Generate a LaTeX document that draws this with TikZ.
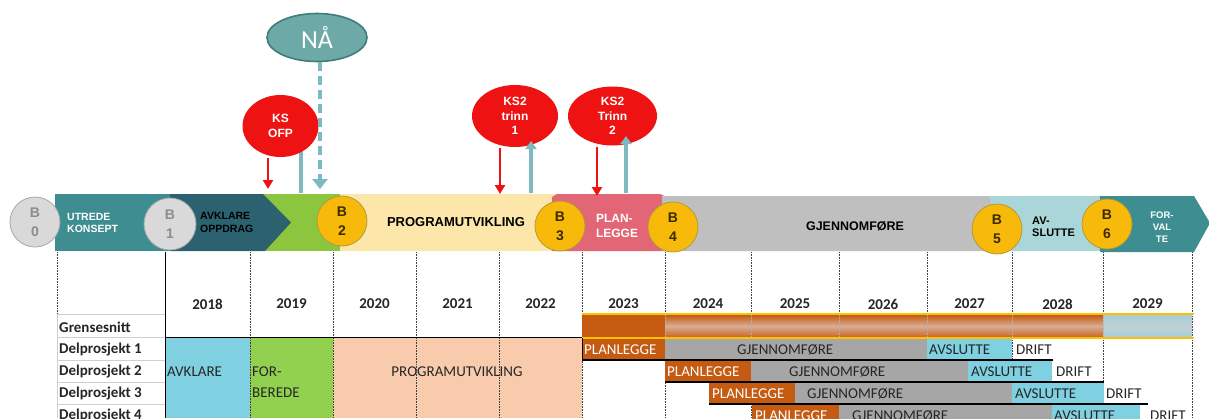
\documentclass[tikz,border=0pt]{standalone}
\usepackage{fontspec}
\setmainfont{Liberation Sans}
\newfontfamily\calibri{Carlito}
\usetikzlibrary{arrows.meta,shapes.geometric}

% phase band colours
\definecolor{tealA}{HTML}{3E8E91}
\definecolor{tealD}{HTML}{2C6170}
\definecolor{greenB}{HTML}{8CC63F}
\definecolor{sandB}{HTML}{FCE6AA}
\definecolor{pinkB}{HTML}{E36676}
\definecolor{grayB}{HTML}{BFBFBF}
\definecolor{tealL}{HTML}{ABD6D9}
% milestone circles
\definecolor{goldC}{HTML}{F7BA0A}
\definecolor{goldE}{HTML}{B29A3C}
\definecolor{brownT}{HTML}{3A2A00}
\definecolor{greyC}{HTML}{D9D9D9}
\definecolor{greyE}{HTML}{A8A8A8}
\definecolor{greyT}{HTML}{8C8C8C}
% decision points
\definecolor{ksred}{HTML}{EE1212}
\definecolor{naaF}{HTML}{6CA9A7}
\definecolor{naaE}{HTML}{3E7D7B}
\definecolor{arrTeal}{HTML}{7DB9BE}
% schedule table
\definecolor{orangeP}{HTML}{C55A11}
\definecolor{orangeL}{HTML}{D8AE94}
\definecolor{grayG}{HTML}{A6A6A6}
\definecolor{cyanA}{HTML}{7FD0E0}
\definecolor{greenF}{HTML}{92D050}
\definecolor{peach}{HTML}{F8CBAD}
\definecolor{yellowL}{HTML}{FFC000}
\definecolor{blueG}{HTML}{A3CEDA}
\definecolor{blueL}{HTML}{C2D0D4}
\definecolor{txt}{HTML}{262626}
\definecolor{gridL}{HTML}{D0D0D0}

\begin{document}
\begin{tikzpicture}[x=1pt,y=-1pt,
  bc/.style={circle, minimum size=50pt, inner sep=0pt, align=center,
    line width=0.8pt, font=\bfseries\fontsize{14}{19}\selectfont},
  bgold/.style={bc, fill=goldC, draw=goldE, text=brownT},
  bgrey/.style={bc, fill=greyC, draw=greyE, text=greyT},
  bandw/.style={inner sep=0pt, text=white, align=left,
    font=\bfseries\fontsize{10.5}{12}\selectfont},
  bandk/.style={bandw, text=black},
  bandbig/.style={inner sep=0pt, text=black, font=\bfseries\fontsize{13}{15}\selectfont},
  ks/.style={ellipse, fill=ksred, inner sep=0pt, text=white, align=center,
    font=\bfseries\fontsize{12}{14.5}\selectfont},
  redarr/.style={draw=ksred, line width=2.8pt, -{Triangle[width=10pt,length=9pt]}},
  tealarr/.style={draw=arrTeal, line width=3.6pt, -{Triangle[width=11pt,length=8pt]}},
  nowarr/.style={draw=arrTeal, line width=4.8pt, dash pattern=on 9pt off 5pt,
    -{Triangle[width=15pt,length=10pt]}},
  yr/.style={inner sep=0pt, text=txt, font=\calibri\bfseries\fontsize{15}{18}\selectfont},
  lab/.style={inner sep=0pt, anchor=west, text=txt, font=\calibri\bfseries\fontsize{15}{18}\selectfont},
  cell/.style={inner sep=0pt, anchor=west, text=txt, font=\calibri\fontsize{15}{21}\selectfont},
  cellw/.style={cell, text=white},
  ydot/.style={draw=black!75, line width=0.6pt, densely dotted},
  uline/.style={draw=black, line width=2pt},
]
\clip (0,0) rectangle (1209,418);
\fill[white] (0,0) rectangle (1209,418);

% ---------- phase band ----------
\fill[tealA] (55,194) rectangle (190,251);
\fill[greenB] (255,194) rectangle (345,251);
\fill[tealD] (170,194) -- (263,194) -- (291,222.5) -- (265,251) -- (170,251) -- cycle;
\fill[sandB] (340,194) rectangle (558,251);
\fill[pinkB] (552,197) -- (557,194) -- (660,194) -- (667,197) -- (667,251) -- (552,251) -- cycle;
\fill[grayB] (662,196) -- (990,196) -- (1003,251) -- (662,251) -- cycle;
\fill[tealL] (990,196) -- (1104,196) -- (1104,251) -- (1003,251) -- cycle;
\fill[tealA] (1100,196) -- (1194,196) -- (1210,223) -- (1194,252) -- (1100,252) -- cycle;

\node[bandw, anchor=west] (utrede) at (67,223) {UTREDE\\KONSEPT};
\node[bandk, anchor=west, font=\bfseries\fontsize{10.5}{13}\selectfont] (oppdrag) at (200,222.5) {AVKLARE\\OPPDRAG};
\node[bandbig] (progr) at (456,222.5) {PROGRAMUTVIKLING};
\node[bandw, font=\bfseries\fontsize{12}{15}\selectfont] (planB) at (617,225.5) {PLAN-\\LEGGE};
\node[bandbig, font=\bfseries\fontsize{12.5}{15}\selectfont] (gjenB) at (855,226) {GJENNOMFØRE};
\node[bandk, anchor=west, font=\bfseries\fontsize{11}{12}\selectfont] (avslB) at (1032,227) {AV-\\SLUTTE};
\node[bandw, align=center, font=\bfseries\fontsize{9.5}{12}\selectfont] (forv) at (1162,227) {FOR-\\VAL\\TE};

% milestones
\node[bgrey] (b0) at (35,222) {B\\0};
\node[bgrey, minimum size=52pt] (b1) at (170,224) {B\\1};
\node[bgold] (b2) at (342,221) {B\\2};
\node[bgold] (b3) at (560,226) {B\\3};
\node[bgold] (b4) at (673,227) {B\\4};
\node[bgold] (b5) at (997,229) {B\\5};
\node[bgold] (b6) at (1107,224) {B\\6};

% ---------- decision points and arrows ----------
\coordinate (nowT) at (320,189);
\coordinate (ofpIn) at (268,189);
\coordinate (ofpOut) at (301,193);
\coordinate (ofpTop) at (301,148);
\coordinate (t1In) at (500,194);
\coordinate (t1Out) at (531,193);
\coordinate (t1Tip) at (531,141);
\coordinate (t2In) at (597,196);
\coordinate (t2Out) at (626,193);
\coordinate (t2Tip) at (626,136);

\draw[draw=arrTeal, line width=3.6pt] (ofpOut) -- (ofpTop);

\node[ellipse, fill=naaF, draw=naaE, line width=1.6pt, minimum width=100pt, minimum height=48pt,
  inner sep=0pt, text=white, font=\calibri\fontsize{26}{26}\selectfont] (naa) at (317,37.5) {NÅ};
\node[ks, minimum width=76pt, minimum height=62pt] (ofp) at (280.5,126) {KS\\OFP};
\node[ks, minimum width=86pt, minimum height=62pt] (tr1) at (515,116) {KS2\\trinn\\1};
\node[ks, minimum width=89pt, minimum height=59pt] (tr2) at (612.5,116) {KS2\\Trinn\\2};

\draw[nowarr] (naa.south -| nowT) -- (nowT);
\draw[redarr] ([yshift=-1pt]ofp.south -| ofpIn) -- (ofpIn);
\draw[redarr] ([yshift=-1pt]tr1.south -| t1In) -- (t1In);
\draw[tealarr] (t1Out) -- (t1Tip);
\draw[redarr] ([yshift=-1pt]tr2.south -| t2In) -- (t2In);
\draw[tealarr] (t2Out) -- (t2Tip);

% ---------- schedule table ----------
% early phases, shared by all sub-projects
\fill[cyanA] (165,338) rectangle (250,418);
\fill[greenF] (250,338) rectangle (333,418);
\fill[peach] (333,338) rectangle (582,418);
\node[cell, anchor=west] (avkT) at (167,372) {AVKLARE};
\node[cell, anchor=west, align=left] (forT) at (252,382.5) {FOR-\\BEREDE};
\node[cell, anchor=center] (progT) at (457,372) {PROGRAMUTVIKLING};

% year columns
\foreach \xx in {250,333,416,499,582,665,751,839,927,1012,1103,1192}
  \draw[ydot] (\xx,252) -- (\xx,418);
\draw[ydot] (57,252) -- (57,314);
\draw[draw=black, line width=0.9pt] (165,252) -- (165,418);

\foreach \yy/\xa/\xb in {2018/165/250,2019/250/333,2020/333/416,2021/416/499,2022/499/582,
  2023/582/665,2024/665/751,2025/751/839,2026/839/927,2027/927/1012,2028/1012/1103,2029/1103/1192}
  \node[yr] (y\yy) at ({(\xa+\xb)/2},304) {\yy};

% label column
\foreach \yy in {314,337,360,382,404}
  \draw[gridL, line width=0.8pt] (57,\yy) -- (165,\yy);
\draw[gridL, line width=0.8pt] (57,314) -- (57,418);
\node[lab] (lg) at (59,327) {Grensesnitt};
\node[lab] (l1) at (59,349.5) {Delprosjekt 1};
\node[lab] (l2) at (59,371.5) {Delprosjekt 2};
\node[lab] (l3) at (59,393.5) {Delprosjekt 3};
\node[lab] (l4) at (59,415.5) {Delprosjekt 4};

% interface bar
\fill[orangeP] (582,315) rectangle (665,337);
\foreach \xa/\xb in {665/751,751/839,839/927,927/1012,1012/1103}
  \shade[top color=orangeP, bottom color=orangeP!92!white, middle color=orangeL] (\xa,315) rectangle (\xb,337);
\shade[top color=blueG, bottom color=blueG, middle color=blueL] (1103,315) rectangle (1192,337);
\foreach \xx in {665,751,839,927,1012,1103}
  \draw[ydot, draw=white!70!black] (\xx,315) -- (\xx,337);
\draw[yellowL, line width=2pt] (582,314) -- (1194,314);
\draw[yellowL, line width=2pt] (582,337.5) -- (1194,337.5);
\draw[draw=black, line width=1.6pt] (165,337.5) -- (582,337.5);

% sub-project 1
\fill[orangeP] (582,339) rectangle (665,359);
\fill[grayG] (665,339) rectangle (927,359);
\fill[cyanA] (927,339) rectangle (1012,359);
\draw[uline] (582,360) -- (1053,360);
\draw[draw=black, line width=0.8pt] (582,338) -- (582,360);
\node[cellw] (p1) at (584,349.5) {PLANLEGGE};
\node[cell] (g1) at (737,349.5) {GJENNOMFØRE};
\node[cell] (a1) at (929,349.5) {AVSLUTTE};
\node[cell] (d1) at (1016,349.5) {DRIFT};

% sub-project 2
\fill[orangeP] (665,361) rectangle (751,381);
\fill[grayG] (751,361) rectangle (968,381);
\fill[cyanA] (968,361) rectangle (1052,381);
\draw[uline] (665,382) -- (1104,382);
\node[cellw] (p2) at (667,371.5) {PLANLEGGE};
\node[cell] (g2) at (789,371.5) {GJENNOMFØRE};
\node[cell] (a2) at (971,371.5) {AVSLUTTE};
\node[cell] (d2) at (1056,371.5) {DRIFT};

% sub-project 3
\fill[orangeP] (709,383) rectangle (795,403);
\fill[grayG] (795,383) rectangle (1012,403);
\fill[cyanA] (1012,383) rectangle (1104,403);
\draw[uline] (709,404) -- (1148,404);
\node[cellw] (p3) at (712,393.5) {PLANLEGGE};
\node[cell] (g3) at (807,393.5) {GJENNOMFØRE};
\node[cell] (a3) at (1015,393.5) {AVSLUTTE};
\node[cell] (d3) at (1106,393.5) {DRIFT};

% sub-project 4
\fill[orangeP] (752,405) rectangle (839,425);
\fill[grayG] (839,405) rectangle (1052,425);
\fill[cyanA] (1052,405) rectangle (1140,425);
\node[cellw] (p4) at (755,415.5) {PLANLEGGE};
\node[cell] (g4) at (852,415.5) {GJENNOMFØRE};
\node[cell] (a4) at (1054,415.5) {AVSLUTTE};
\node[cell] (d4) at (1150,415.5) {DRIFT};
\end{tikzpicture}
\end{document}
